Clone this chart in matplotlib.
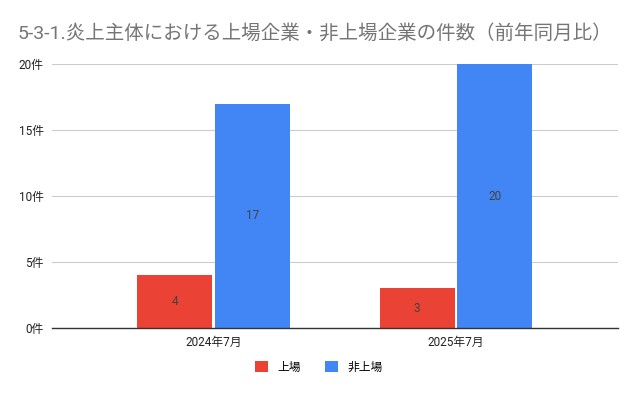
import matplotlib.pyplot as plt
import numpy as np

plt.rcParams['font.family'] = ['Roboto', 'Noto Sans CJK JP', 'DejaVu Sans']

categories = ["2024年7月", "2025年7月"]
listed = [4, 3]
unlisted = [17, 20]
series_names = ["上場", "非上場"]
yticks = [0, 5, 10, 15, 20]

fig = plt.figure(figsize=(6.38, 3.95), dpi=100)
ax = fig.add_axes([52/638, 1-328/395, 566/638, 264/395])

x = np.arange(len(categories))
w = 0.309
off = 0.16
b1 = ax.bar(x - off, listed, w, color='#EA4335', label=series_names[0])
b2 = ax.bar(x + off, unlisted, w, color='#4285F4', label=series_names[1])

for bars, vals in [(b1, listed), (b2, unlisted)]:
    for r, v in zip(bars, vals):
        ax.text(r.get_x() + r.get_width()/2, v/2, str(v), ha='center', va='center',
                fontsize=8.5, color='#424242')

ax.set_xlim(-0.666, 1.668)
ax.set_ylim(0, 20)
ax.set_yticks(yticks)
ax.set_yticklabels([f"{t}件" for t in yticks], fontsize=8.5, color='#222222')
ax.set_xticks(x)
ax.set_xticklabels(categories, fontsize=8.5, color='#222222')
ax.tick_params(length=0, pad=6)
ax.grid(axis='y', color='#cccccc', linewidth=0.8)
ax.set_axisbelow(True)
for s in ['top', 'right', 'left']:
    ax.spines[s].set_visible(False)
ax.spines['bottom'].set_color('#333333')
ax.spines['bottom'].set_linewidth(1.0)
ax.spines['bottom'].set_zorder(3)

fig.text(18/638, 1-33/395, "5-3-1.炎上主体における上場企業・非上場企業の件数（前年同月比）",
         fontsize=14, color='#757575', va='center', ha='left')

fig.legend(handles=[b1, b2], loc='center', bbox_to_anchor=(0.5, 1-367/395),
           ncol=2, frameon=False, fontsize=8.5, handlelength=1.1, handleheight=1.1,
           columnspacing=2.0, handletextpad=0.8)

plt.savefig("out.png", dpi=100)
